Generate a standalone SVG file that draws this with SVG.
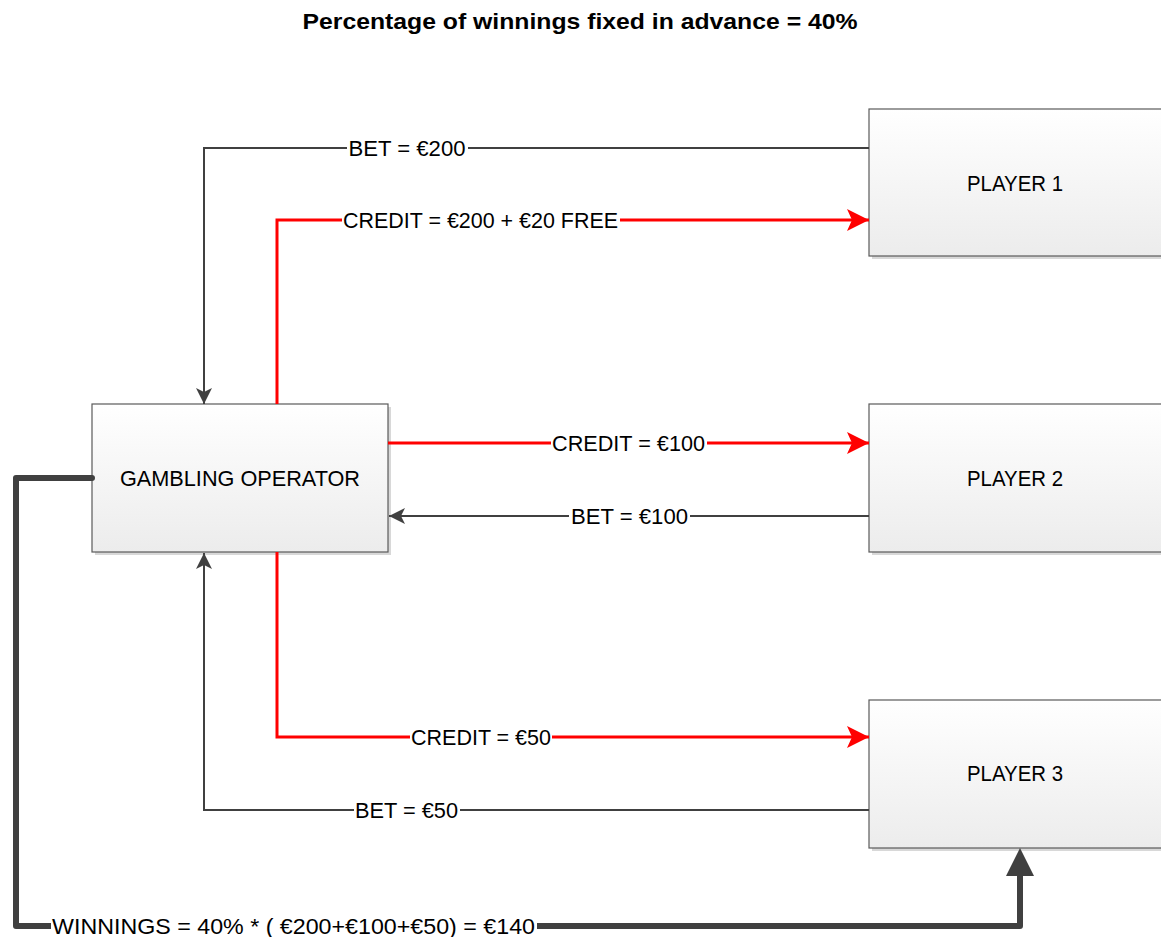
<svg xmlns="http://www.w3.org/2000/svg" width="1161" height="937" viewBox="0 0 1161 937">
<style>
.box{fill:url(#g);stroke:#5a5a5a;stroke-width:1.2}
.sh{fill:#d8d8d8}
.nt{font-family:"Liberation Sans",Arial,sans-serif;font-size:22px;fill:#000;text-anchor:middle}
.lb{font-family:"Liberation Sans",Arial,sans-serif;font-size:22px;fill:#000;text-anchor:middle}
.bg{fill:#fff}
.gray{fill:none;stroke:#404040;stroke-width:2}
.red{fill:none;stroke:#ff0000;stroke-width:3}
.thick{fill:none;stroke:#404040;stroke-width:6;stroke-linejoin:round;stroke-linecap:round}
</style>
<defs>
<linearGradient id="g" x1="0" y1="0" x2="0" y2="1">
<stop offset="0" stop-color="#ffffff"/>
<stop offset="1" stop-color="#ececec"/>
</linearGradient>
<marker id="ag" markerUnits="userSpaceOnUse" markerWidth="16" markerHeight="16" viewBox="0 0 16 16" refX="16" refY="8" orient="auto">
<path d="M0,0 L16,8 L0,16 L4,8 Z" fill="#404040"/>
</marker>
<marker id="ar" markerUnits="userSpaceOnUse" markerWidth="22" markerHeight="22" viewBox="0 0 22 22" refX="22" refY="11" orient="auto">
<path d="M0,0 L22,11 L0,22 L5,11 Z" fill="#ff0000"/>
</marker>
</defs>
<rect width="1161" height="937" fill="#fff"/>
<text x="580" y="29" font-family="'Liberation Sans',Arial,sans-serif" font-size="22" font-weight="bold" text-anchor="middle" textLength="555" lengthAdjust="spacingAndGlyphs">Percentage of winnings fixed in advance = 40%</text>

<g id="operator">
<rect class="sh" x="95" y="407" width="296" height="148"/>
<rect class="box" x="92" y="404" width="296" height="148"/>
<text class="nt" x="240" y="486" textLength="240" lengthAdjust="spacingAndGlyphs">GAMBLING OPERATOR</text>
</g>
<g id="player1">
<rect class="sh" x="872" y="112" width="320" height="147"/>
<rect class="box" x="869" y="109" width="320" height="147"/>
<text class="nt" x="1015" y="191" textLength="96" lengthAdjust="spacingAndGlyphs">PLAYER 1</text>
</g>
<g id="player2">
<rect class="sh" x="872" y="407" width="320" height="148"/>
<rect class="box" x="869" y="404" width="320" height="148"/>
<text class="nt" x="1015" y="486" textLength="96" lengthAdjust="spacingAndGlyphs">PLAYER 2</text>
</g>
<g id="player3">
<rect class="sh" x="872" y="703" width="320" height="148"/>
<rect class="box" x="869" y="700" width="320" height="148"/>
<text class="nt" x="1015" y="781" textLength="96" lengthAdjust="spacingAndGlyphs">PLAYER 3</text>
</g>

<g id="connectors">
<path class="gray" d="M869,148 H204 V404" marker-end="url(#ag)"/>
<path class="red" d="M277,404 V220 H869" marker-end="url(#ar)"/>
<path class="red" d="M388,443 H869" marker-end="url(#ar)"/>
<path class="gray" d="M869,516 H389" marker-end="url(#ag)"/>
<path class="red" d="M277,552 V737 H869" marker-end="url(#ar)"/>
<path class="gray" d="M869,810 H204 V553" marker-end="url(#ag)"/>
<path class="thick" d="M92,478 H16 V926 H1020 V872"/>
<path d="M1020,848 L1034,876 L1006,876 Z" fill="#404040"/>

<rect class="bg" x="347" y="136" width="121" height="24"/>
<text class="lb" x="407" y="155.5" textLength="117" lengthAdjust="spacingAndGlyphs">BET = €200</text>
<rect class="bg" x="342" y="208" width="278" height="24"/>
<text class="lb" x="480.5" y="227.5" textLength="275" lengthAdjust="spacingAndGlyphs">CREDIT = €200 + €20 FREE</text>
<rect class="bg" x="551" y="431" width="156" height="24"/>
<text class="lb" x="628.5" y="450.5" textLength="153" lengthAdjust="spacingAndGlyphs">CREDIT = €100</text>
<rect class="bg" x="569" y="504" width="121" height="24"/>
<text class="lb" x="629.5" y="523.5" textLength="117" lengthAdjust="spacingAndGlyphs">BET = €100</text>
<rect class="bg" x="410" y="725" width="142" height="24"/>
<text class="lb" x="481" y="744.5" textLength="140" lengthAdjust="spacingAndGlyphs">CREDIT = €50</text>
<rect class="bg" x="354" y="798" width="106" height="24"/>
<text class="lb" x="406.5" y="817.5" textLength="103" lengthAdjust="spacingAndGlyphs">BET = €50</text>
<rect class="bg" x="51" y="913" width="486" height="24"/>
<text class="lb" x="293.5" y="933.5" textLength="483" lengthAdjust="spacingAndGlyphs">WINNINGS = 40% * ( €200+€100+€50) = €140</text>
</g>
</svg>
